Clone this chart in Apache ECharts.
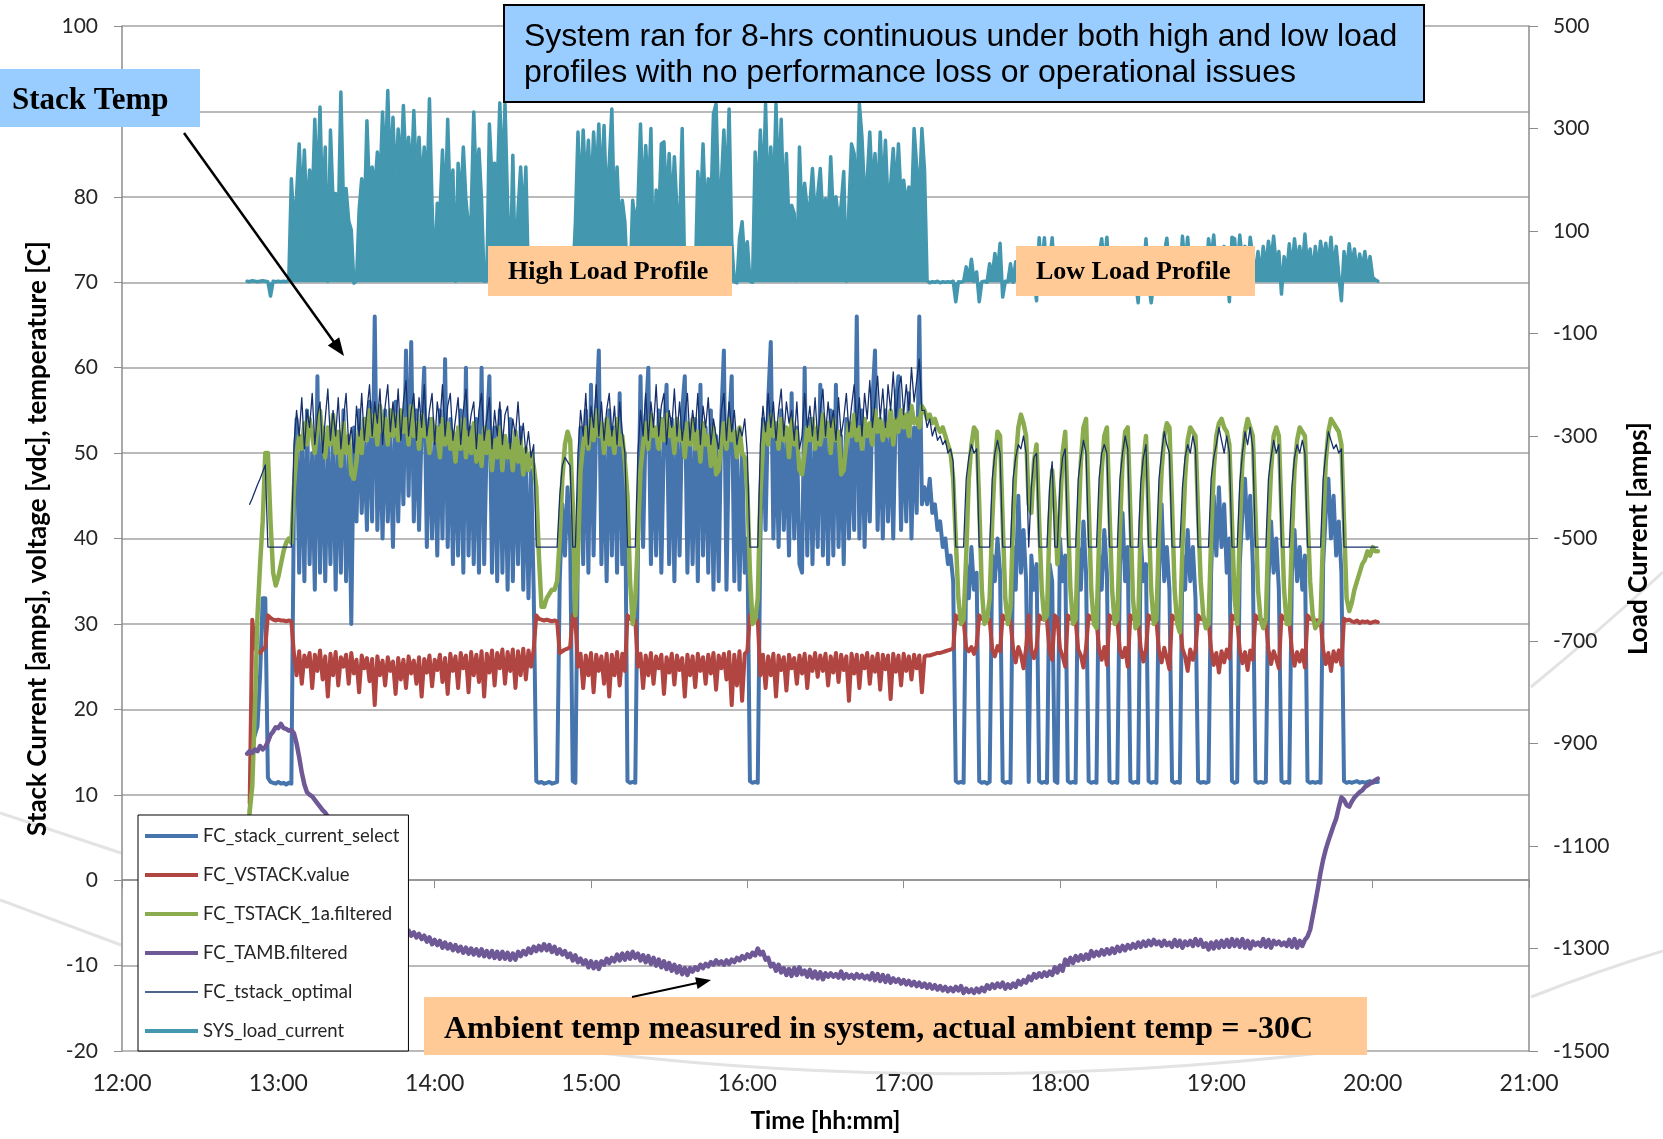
<!DOCTYPE html>
<html><head><meta charset="utf-8">
<script src="https://cdn.jsdelivr.net/npm/echarts/dist/echarts.min.js"></script>
<style>html,body{margin:0;padding:0;background:#fff}#c{width:1663px;height:1139px}</style>
</head><body><div id="c"></div>
<script>
// x = minutes after midnight; each row holds 10 one-minute readings, first row starts 12:48
const FIRST_MINUTE = 768;
const xTickLabels = ['12:00','13:00','14:00','15:00','16:00','17:00','18:00','19:00','20:00','21:00'];
const seriesNames = ['FC_stack_current_select','FC_VSTACK.value','FC_TSTACK_1a.filtered','FC_TAMB.filtered','FC_tstack_optimal','SYS_load_current'];

const curRows = [
[null,8,16,17,18,24,33,33,12,11.5],
[11.4,11.3,11.5,11.3,11.4,11.2,11.4,11.3,45,54],
[36,52,35,55,37,50,34,59,36,53],
[35,51,37,54,34,52,36,55,35,50],
[30,53,42,55,43,52,41,56,42,66],
[41,53,40,55,42,52,39,56,42,54],
[44,62,45,63,42,55,41,53,60,39],
[54,40,52,38,55,40,61,39,54,37],
[52,38,55,36,60,38,53,37,54,36],
[60,37,52,59,36,53,35,55,36,52],
[34,54,35,51,37,53,34,50,33,48],
[34,11.6,11.4,11.5,11.3,11.4,11.5,11.3,11.4,11.5],
[35,44,38,46,40,11.6,11.4,40,53,37],
[55,36,58,38,54,62,37,52,35,55],
[38,53,36,57,37,50,11.6,11.4,11.5,11.4],
[38,59,39,54,60,37,53,38,55,36],
[52,58,37,54,35,53,38,55,59,36],
[52,37,54,35,58,38,53,36,55,34],
[52,35,54,62,34,53,59,35,52,34],
[50,36,40,11.6,11.4,11.5,11.4,40,54,41],
[56,63,40,53,39,55,41,52,38,57],
[40,53,37,36,60,38,54,37,52,39],
[58,38,53,37,55,38,58,39,52,37],
[54,40,53,41,66,40,55,39,52,42],
[56,62,41,54,40,55,42,53,40,56],
[59,41,54,42,57,40,53,43,66,44],
[46,44,47,43,44,41,42,39,40,37],
[38,35,11.6,11.4,11.5,11.4,37,33,39,34],
[36,11.6,11.4,11.5,11.3,11.5,38,35,40,36],
[11.6,11.4,11.5,11.4,39,34,45,36,41,35],
[11.5,38,34,37,11.6,11.4,11.5,11.4,37,35],
[11.6,11.4,40,35,38,11.6,11.4,11.5,11.4,39],
[34,42,36,11.6,11.4,11.5,11.4,38,34,41],
[36,11.6,11.4,11.5,11.4,37,43,35,39,11.6],
[11.4,11.5,11.4,40,35,37,11.6,11.4,11.5,11.4],
[36,44,35,39,34,11.6,11.4,11.5,11.4,38],
[34,41,35,39,33,11.6,11.4,11.5,11.4,11.5],
[36,45,38,46,39,44,36,40,11.6,11.4],
[11.5,37,43,47,40,45,37,11.6,11.4,11.5],
[11.4,11.5,35,42,36,40,34,11.6,11.4,11.5],
[11.4,36,41,35,39,34,38,11.6,11.4,11.5],
[11.4,11.5,11.4,37,43,47,40,45,38,42],
[36,11.6,11.4,11.5,11.4,11.5,11.6,11.4,11.5,11.4],
[11.5,11.6,11.4,11.5,11.5]
];

const vstRows = [
[null,9,30.5,27.2,26.8,26.6,27,27.3,31,30.7],
[30.5,30.4,30.5,30.4,30.4,30.3,30.4,30.3,26.5,24],
[26.8,23,26.3,25,26.6,22.5,26.4,24.5,26.9,23.5],
[26.2,21.5,26.5,24,26.7,22.8,26.1,25,26.4,23],
[26.6,24.2,25.8,22,26.3,24.8,26,23.3,25.9,20.5],
[26.2,24,25.7,22.8,26.1,24.5,25.6,21.8,26,23.5],
[25.8,22.5,26.2,24.2,25.7,23,26.1,21.5,25.9,24.3],
[26.3,22.7,25.8,24.6,26.4,23.2,26,21.8,26.5,24.5],
[26.2,22.5,26.6,24.8,26.3,22,26.7,24,26.4,23.2],
[26.8,21.5,26.5,24.3,26.9,22.8,26.6,24.8,27,23],
[26.7,24.5,27,22.5,26.8,24,27.1,23.5,26.9,25],
[27,31,30.6,30.5,30.4,30.5,30.4,30.3,30.4,30.3],
[26.6,26.8,27,27.1,27.3,31,30.6,25,26.5,22.5],
[26.3,24,26.6,22,26.4,24.5,26.2,23,26.5,21.5],
[26.4,24,26.7,22.8,26.5,24.5,31,30.6,30.5,30.4],
[25,26.5,22.5,26.3,24,26.6,23,26.2,24.8,26.4],
[21.8,26.1,24.3,26.5,22.9,26.3,24.6,26,21.5,26.4],
[24,26.2,22.6,26.5,24.5,26.1,23,26.4,24.2,26.6],
[22.3,26.3,24.8,26.5,23.5,26.7,20.5,26.4,22.8,26.8],
[21,26.5,26.8,31,30.6,30.5,30.4,24,26.4,22.5],
[26.2,24,26.5,21.5,26.3,24.6,26.1,22.2,26.4,24.8],
[26,23,26.3,24.2,26.5,22.5,26.2,24.5,26.6,23.8],
[26.3,24.5,26.5,22.8,26.2,24.3,26.6,23.2,26.4,24.6],
[26.2,21,26.5,24.2,26.4,22.5,26.3,24.8,26.6,23],
[26.2,24.4,26.5,22.3,26.4,24.7,26.3,21.2,26.5,24.4],
[26.3,22.8,26.5,24.5,26.2,23.5,26.4,24.8,26.3,22],
[26.2,26.3,26.3,26.4,26.5,26.6,26.6,26.7,26.8,26.9],
[27,27.1,31,30.6,30.5,30.4,27.2,26.8,27.3,26.5],
[27.5,31,30.6,30.5,30.4,30.5,27,26.2,27.4,26.8],
[31,30.6,30.5,30.4,27.1,25.5,27.3,26.4,24.8,27.2],
[31,26.9,26,27.2,31,30.6,30.5,30.4,26.8,25.8],
[31,30.6,27.1,26.2,25,31,30.6,30.5,30.4,27],
[26.3,24.9,27.2,31,30.6,30.5,30.4,27,25.8,27.3],
[25.2,31,30.6,30.5,30.4,26.9,26.1,27.2,25,31],
[30.6,30.5,30.4,27.1,25.6,27,31,30.6,30.5,30.4],
[26.8,25.5,27.2,26,24.7,31,30.6,30.5,30.4,27.1],
[26.2,24.5,27,25.8,26.9,31,30.6,30.5,30.4,30.4],
[27,25.2,26.6,24.3,26.8,25.5,27,26,31,30.6],
[30.5,26.9,25.4,26.7,24.6,26.9,25.8,31,30.6,30.5],
[30.4,30.4,27,25.3,26.8,25.9,24.8,31,30.6,30.5],
[30.4,26.9,25.1,26.7,25.6,26.9,24.9,31,30.6,30.5],
[30.4,30.4,30.5,27,25.3,26.6,24.5,26.8,25.6,26.9],
[25.2,30.6,30.4,30.5,30.3,30.2,30.4,30.1,30.3,30.2],
[30.3,30.1,30.2,30.3,30.2]
];

const tstRows = [
[5,8,11,20,31,37,42,50,50,42],
[36,34.5,35.5,37,38.5,39.5,40,39.5,46,50],
[52,50.5,53.5,51,54,52,50,53,55,51.5],
[49.5,53,51,54.5,50,52.5,48.5,53.5,50,52],
[47.5,47,49,52.5,50,54,51.5,55,52,54.5],
[51,55.5,52.5,54,51,55,52,54.5,51.5,55],
[52.5,54,51,55.5,52,53.5,50.5,54.5,52,53],
[50,54,51.5,53,49.5,54,51,53.5,50.5,52.5],
[49,53,50.5,54,49.5,52.5,50,53.5,49,52],
[48.5,53,50,52.5,48,51.5,49.5,53,48,52],
[49.5,51,48,52.5,49,51.5,47.5,50.5,48,50],
[48.5,46,38,32,32,33,33.5,34,34,35],
[40,47,51,52.5,51.5,44,31,38,48,51],
[53,50.5,54,51.5,55,52,53.5,50,54,51],
[52.5,50,54,51,52,49,45,35,30,33],
[40,48,51,53.5,50.5,54.5,52,53,50.5,54],
[51.5,54.5,52,53,50,54,51.5,52.5,49.5,53.5],
[51,54,50.5,52.5,49,53.5,51,52,48.5,53],
[47.5,48,51,53.5,50.5,54,51.5,52.5,49.5,53],
[50,49.5,46,36,30,30.5,33,45,51,53.5],
[51,54.5,52,53.5,50.5,54,51.5,53,49.5,54],
[51,52.5,48,47.5,50,53,51.5,54,50.5,53],
[51,54.5,52,53.5,50,54,51.5,52.5,47.5,48],
[51,53.5,52,54.5,51.5,53,50.5,54,52,53.5],
[51,55,52.5,54,51.5,53.5,52,55,51,54],
[52.5,55,53,54.5,52,55.5,53.5,54,53,55.5],
[55,54,54.5,53.5,54,53,52.5,53,52,51],
[50,47,40,33,30,30.5,38,47,51,53],
[52.5,44,34,30,30.5,33,42,49,52.5,52],
[42,33,30,32,42,49,53,54.5,53.5,52],
[44,43,49,51,42,34,30.5,31,42,48],
[44,37,43,50,52.5,43,34,30,30.5,41],
[49,53,54,44,34,30,29.5,40,48,52],
[53,43,34,30,30.5,41,49,52.5,53,43],
[33,29.5,30,42,49,52,43,34,30,30.5],
[41,48,52,53.5,53,44,34,30,29,39],
[47,51.5,53,52.5,52,43,35,31,29.5,30],
[40,48,52,53.5,54,53,52.5,51,42,33],
[30,41,49,52.5,54,53,52,43,34,30.5],
[29.5,30.5,41,48,52,53,52,43,34,30],
[30,40,48,51.5,53,52.5,52,43,35,31],
[29.5,30,30.5,41,49,52.5,54,53.5,53,52.5],
[51,42,33,31.5,32.5,34,35,36,37,37.5],
[38.5,38,39,38.5,38.5]
];

const ambRows = [
[14.8,15.1,14.9,15.3,15.1,15.7,15.3,15.6,16.2,17.0],
[17.4,17.9,17.8,18.3,17.8,17.7,17.5,17.6,17.2,16.0],
[14.4,12.6,11.2,10.3,10.0,9.8,9.4,9.0,8.6,8.2],
[7.9,7.4,6.9,6.3,5.8,5.2,4.7,4.1,3.6,3.0],
[2.5,2.0,1.5,1.0,0.5,0.0,-0.5,-1.0,-1.4,-1.9],
[-2.3,-2.7,-3.1,-3.5,-3.9,-4.3,-4.6,-5.0,-5.3,-5.6],
[-5.6,-6.3,-5.9,-6.5,-6.1,-6.7,-6.3,-6.9,-6.5,-7.2],
[-6.7,-7.5,-7.0,-7.6,-7.1,-7.9,-7.3,-8.0,-7.5,-8.2],
[-7.6,-8.3,-7.8,-8.5,-7.9,-8.6,-8.0,-8.7,-8.1,-8.8],
[-8.1,-8.9,-8.3,-9.0,-8.3,-9.1,-8.4,-9.2,-8.4,-9.2],
[-8.5,-9.3,-8.6,-9.3,-8.4,-8.9,-8.3,-8.7,-8.0,-8.5],
[-7.8,-8.3,-7.7,-8.2,-7.5,-8.2,-7.6,-8.4,-7.8,-8.6],
[-8.1,-8.7,-8.3,-9.0,-8.6,-9.4,-8.8,-9.6,-9.2,-9.8],
[-9.4,-10.2,-9.5,-10.3,-9.6,-10.4,-9.5,-9.9,-9.2,-9.7],
[-9.1,-9.5,-8.7,-9.4,-8.6,-9.3,-8.5,-9.2,-8.4,-9.1],
[-8.6,-9.4,-8.8,-9.6,-8.9,-9.8,-9.1,-10.0,-9.3,-10.2],
[-9.5,-10.4,-9.7,-10.6,-9.9,-10.8,-10.1,-11.0,-10.3,-11.1],
[-10.3,-10.7,-10.2,-10.5,-9.9,-10.3,-9.8,-10.1,-9.6,-9.9],
[-9.4,-9.8,-9.5,-9.9,-9.4,-9.8,-9.3,-9.6,-9.1,-9.4],
[-8.9,-9.2,-8.7,-9.0,-8.5,-8.8,-8.0,-8.7,-8.4,-9.3],
[-9.1,-10.1,-9.8,-10.6,-9.9,-10.8,-10.3,-11.1,-10.4,-11.2],
[-10.3,-11.1,-10.2,-11.0,-10.6,-11.3,-10.5,-11.4,-10.7,-11.5],
[-10.8,-11.6,-10.9,-11.3,-10.9,-11.3,-11.0,-11.4,-10.7,-11.5],
[-11.0,-11.4,-11.1,-11.5,-11.0,-11.4,-11.1,-11.5,-11.2,-11.6],
[-10.9,-11.7,-11.0,-11.8,-11.1,-11.9,-11.2,-12.0,-11.5,-11.9],
[-11.6,-12.1,-11.7,-12.2,-11.8,-12.3,-11.9,-12.4,-12.0,-12.5],
[-12.1,-12.6,-12.2,-12.7,-12.3,-12.8,-12.4,-12.9,-12.5,-13.0],
[-12.6,-13.0,-12.5,-12.9,-12.4,-13.2,-12.7,-13.1,-12.8,-13.2],
[-12.7,-13.1,-12.6,-13.0,-12.3,-12.7,-12.2,-12.6,-12.1,-12.5],
[-12.0,-12.7,-12.2,-12.6,-12.1,-12.5,-11.8,-12.2,-11.7,-12.0],
[-11.3,-11.7,-11.0,-11.4,-10.9,-11.3,-10.8,-11.2,-10.7,-11.1],
[-10.2,-10.8,-10.0,-10.6,-9.3,-9.9,-9.1,-9.7,-8.9,-9.4],
[-8.8,-9.3,-8.7,-9.2,-8.3,-8.9,-8.4,-8.8,-8.2,-8.7],
[-8.1,-8.6,-8.0,-8.5,-7.8,-8.3,-7.7,-8.2,-7.6,-8.0],
[-7.5,-7.9,-7.3,-7.8,-7.2,-7.7,-7.1,-7.6,-7.0,-7.5],
[-7.2,-7.7,-7.1,-7.6,-7.3,-7.8,-7.0,-7.7,-7.1,-7.9],
[-7.2,-7.6,-7.1,-7.7,-6.9,-7.6,-7.0,-7.8,-7.4,-8.1],
[-7.3,-8.0,-7.2,-7.9,-7.1,-7.8,-7.0,-7.8,-6.9,-7.7],
[-7.0,-7.8,-6.9,-7.9,-7.1,-8.0,-7.2,-7.6,-7.3,-7.7],
[-6.9,-7.8,-7.0,-7.9,-7.1,-7.5,-7.2,-7.6,-7.3,-7.7],
[-7.0,-7.8,-6.9,-7.9,-7.1,-7.7,-7.0,-6.6,-5.8,-4.2],
[-2.6,-0.9,0.9,2.4,3.6,4.6,5.5,6.4,7.2,8.5],
[9.7,9.4,8.8,8.6,9.2,9.7,10.0,10.3,10.5,10.9],
[11.1,11.3,11.5,11.7,11.9]
];

const optRows = [
[null,44,44.7,45.5,46.3,47,47.8,48.6,39,39],
[39,39,39,39,39,39,39,39,51,55],
[52,56.5,50.5,55,53,57,51,54.5,56,50],
[54,57.5,51.5,55,52,56.5,50.5,54,57,51],
[53,50,55.5,52,57,51.5,55,58,52,56],
[53.5,57.5,51,55.5,58,52.5,56,53,57.5,51.5],
[56,58.5,52,55,57,51.5,56.5,53,58,52],
[55,57,51,56,53.5,58,52,55.5,57,51.5],
[54,56.5,51,55,57.5,52,54.5,56,50.5,55],
[57,51.5,54,56.5,50.5,55,52,56,51,54.5],
[55.5,50.5,54,52,56,51,53.5,50,52.5,49.5],
[51,39,39,39,39,39,39,39,39,39],
[45,48.5,49.5,49,48.5,39,39,50,55,52],
[57,51,55.5,53,58,52,56,51.5,55,57],
[52,55.5,51,56,52.5,50,39,39,39,39],
[50,55,52,57,51.5,56,53,58,52,55.5],
[57,51,55,53,57.5,52,56,51.5,54.5,57],
[51.5,55,52.5,57,51,55.5,53,56.5,51,54],
[52,50.5,55,57,51.5,56,52.5,55,51,53],
[52,54,50,39,39,39,39,51,55.5,52.5],
[57,53,56,51.5,55,57.5,52,56,53.5,55],
[51.5,56,50.5,52,57,53,55.5,52,56.5,51.5],
[55,57.5,52,56,53,55,51.5,56.5,52,54],
[57,52.5,55.5,58,53,56.5,52,57,54,58.5],
[53,56,59,54,57.5,53,58,55,59.5,54],
[57.5,59,54.5,58,55,60,56,58.5,61,55],
[55,53,54,52,53,51.5,52,51,51.5,50],
[50.5,49,39,39,39,39,47,49.5,51,50],
[50.5,39,39,39,39,39,47,50,51.5,50],
[39,39,39,39,47,49.5,51,50.5,52,50],
[39,46,49.5,50,39,39,39,39,46,49],
[39,39,46.5,49.5,50.5,39,39,39,39,47],
[49.5,51.5,50,39,39,39,39,47,50,51],
[50,39,39,39,39,47,50,52,50.5,39],
[39,39,39,46.5,49.5,51,39,39,39,39],
[47,50,52.5,51,50,39,39,39,39,46],
[49.5,51,50,52,50.5,39,39,39,39,39],
[47,49.5,51,53,51.5,50,52,50,39,39],
[39,46.5,50,52.5,51,53,50.5,39,39,39],
[39,39,47,49.5,51.5,50,51,39,39,39],
[39,46,49.5,51,50,51.5,50,39,39,39],
[39,39,39,47,50,52.5,51.5,50.5,51,50],
[50.5,39,39,39,39,39,39,39,39,39],
[39,39,39,39,39]
];

// SYS_load_current in amps (right axis)
const loadRows = [
[2,1,3,2,1,2,3,2,1,-27],
[2,1,2,1,2,1,3,202,110,170],
[270,140,258,120,219,150,318,160,342,130],
[264,2,297,160,173,110,371,150,183,120],
[102,-2,3,140,202,120,315,170,225,180],
[254,190,332,210,374,200,322,180,299,210],
[345,220,283,190,335,200,283,180,264,170],
[358,150,4,154,130,258,120,318,140,219],
[2,232,150,264,160,108,130,332,180,260],
[160,2,3,309,200,232,180,350,190,348],
[150,3,248,2,140,225,110,225,2,1],
[1,-1,2,0,1,-2,1,0,2,-1],
[1,0,-2,1,0,4,115,293,150,297],
[180,277,160,293,190,309,170,306,150,232],
[338,120,225,100,160,118,2,0,160,110],
[150,309,140,267,160,300,2,180,120,270],
[274,150,251,130,245,140,100,300,2,0],
[1,-1,2,216,130,270,120,202,140,329],
[348,150,190,297,160,338,80,1,-1,86],
[118,40,79,2,0,254,150,297,160,348],
[140,264,150,348,170,318,130,251,110,150],
[134,3,264,120,193,140,150,222,130,170],
[222,120,163,110,245,130,167,120,150,216],
[2,150,270,251,140,348,283,170,200,293],
[180,251,150,293,160,277,150,190,261,170],
[270,160,199,150,186,140,300,225,160,300],
[219,3,-1,1,0,2,-1,1,0,1],
[0,2,-38,1,0,2,30,5,45,2],
[20,-38,1,2,0,36,10,56,20,76],
[-29,2,1,36,0,40,5,50,10,45],
[2,30,5,-36,87,20,87,3,40,87],
[2,0,45,10,60,1,0,2,1,40],
[8,55,20,1,0,2,1,50,85,30],
[88,2,0,1,-2,45,10,60,20,1],
[0,2,-40,50,15,85,1,-40,2,0],
[40,10,55,86,20,1,0,2,1,90],
[30,88,15,60,20,1,0,40,2,85],
[45,92,20,60,15,70,30,-38,88,85],
[20,92,40,70,15,88,50,20,60,10],
[70,25,80,40,90,30,60,-23,50,15],
[75,20,85,35,70,25,94,30,65,15],
[70,20,80,40,76,30,88,20,70,15],
[-36,60,20,75,30,65,15,55,25,60],
[20,50,10,5,2]
];

function pairs(rows){const out=[];rows.forEach((row,r)=>row.forEach((v,j)=>out.push([FIRST_MINUTE+r*10+j,v])));return out;}

const SANS = "Lato, 'Open Sans', sans-serif";
const SERIF = "'Liberation Serif', 'DejaVu Serif', serif";
const ARIAL = "'Liberation Sans', Arial, sans-serif";

function lineSeries(name, rows, color, width, yIdx, area){
  const s = {name, type:'line', yAxisIndex:yIdx||0, data:pairs(rows), symbol:'none', showSymbol:false,
    connectNulls:false, sampling:null, lineStyle:{color, width, join:'round', cap:'round'},
    itemStyle:{color}, emphasis:{disabled:true}, animation:false};
  if (area) s.areaStyle = {color, opacity:1, origin:'auto'};
  return s;
}

function arrow(x1,y1,x2,y2,w,len,half){
  const dx=x2-x1, dy=y2-y1, L=Math.hypot(dx,dy), ux=dx/L, uy=dy/L, px=-uy, py=ux;
  const bx=x2-ux*len, by=y2-uy*len;
  return [
    {type:'line', z:100, shape:{x1,y1,x2:bx+ux*2,y2:by+uy*2}, style:{stroke:'#000', lineWidth:w}},
    {type:'polygon', z:100, shape:{points:[[x2,y2],[bx+px*half,by+py*half],[bx-px*half,by-py*half]]}, style:{fill:'#000'}}
  ];
}

const deco = {stroke:'#e3e3e3', lineWidth:3, fill:null};
const graphics = [
  {type:'line', z:0, shape:{x1:0,y1:813,x2:121,y2:853}, style:deco},
  {type:'line', z:0, shape:{x1:0,y1:900,x2:121,y2:945}, style:deco},
  {type:'bezierCurve', z:0, shape:{x1:600,y1:1053,cpx1:960,cpy1:1095,x2:1330,y2:1052}, style:deco},
  {type:'bezierCurve', z:0, shape:{x1:1531,y1:997,cpx1:1600,cpy1:970,x2:1663,y2:951}, style:deco},
  {type:'bezierCurve', z:0, shape:{x1:1531,y1:687,cpx1:1598,cpy1:632,x2:1663,y2:572}, style:deco},

  {type:'rect', z:100, shape:{x:504,y:5,width:920,height:97}, style:{fill:'#99CCFF', stroke:'#000', lineWidth:2}},
  {type:'text', z:101, style:{x:524, y:37, text:'System ran for 8-hrs continuous under both high and low load', font:'32px '+ARIAL, fill:'#000', textVerticalAlign:'middle'}},
  {type:'text', z:101, style:{x:524, y:73.5, text:'profiles with no performance loss or operational issues', font:'32px '+ARIAL, fill:'#000', textVerticalAlign:'middle'}},

  {type:'rect', z:100, shape:{x:0,y:69,width:200,height:58}, style:{fill:'#99CCFF'}},
  {type:'text', z:101, style:{x:12, y:100.5, text:'Stack Temp', font:'bold 31px '+SERIF, fill:'#000', textVerticalAlign:'middle'}},

  {type:'rect', z:100, shape:{x:488,y:246,width:244,height:50}, style:{fill:'#FFCA96'}},
  {type:'text', z:101, style:{x:508, y:272.5, text:'High Load Profile', font:'bold 26px '+SERIF, fill:'#000', textVerticalAlign:'middle'}},

  {type:'rect', z:100, shape:{x:1016,y:246,width:239,height:50}, style:{fill:'#FFCA96'}},
  {type:'text', z:101, style:{x:1036, y:272.5, text:'Low Load Profile', font:'bold 26px '+SERIF, fill:'#000', textVerticalAlign:'middle'}},

  {type:'rect', z:100, shape:{x:424,y:997,width:943,height:58}, style:{fill:'#FFCA96'}},
  {type:'text', z:101, style:{x:444, y:1029.5, text:'Ambient temp measured in system, actual ambient temp = -30C', font:'bold 32px '+SERIF, fill:'#000', textVerticalAlign:'middle'}},
  ...arrow(184,133,344,356,2.5,18,7),
  ...arrow(632,997,711,980,2,15,6)
];

// legend icons: a bar centred in a 53x20 box (tiny corner specks fix the box)
const thickIcon = 'path://M0,0h0.01v0.01h-0.01zM0,8h53v4h-53zM52.99,19.99h0.01v0.01h-0.01z';
const thinIcon = 'path://M0,0h0.01v0.01h-0.01zM0,9.3h53v1.4h-53zM52.99,19.99h0.01v0.01h-0.01z';

const chart = echarts.init(document.getElementById('c'), null, {renderer:'canvas'});
chart.setOption({
  animation:false,
  backgroundColor:'#fff',
  grid:{left:122, top:26, width:1407, height:1025, containLabel:false},
  xAxis:{type:'value', min:720, max:1260, interval:60,
    name:'Time [hh:mm]', nameLocation:'middle', nameGap:58,
    nameTextStyle:{fontFamily:SANS, fontWeight:'bold', fontSize:24.5, color:'#000'},
    axisLine:{show:true, lineStyle:{color:'#8c8c8c', width:1.5}},
    axisTick:{show:true, length:8, lineStyle:{color:'#8c8c8c'}},
    splitLine:{show:false},
    axisLabel:{fontFamily:SANS, fontSize:23, color:'#262626', margin:21.5, formatter:(v)=>xTickLabels[Math.round((v-720)/60)]}},
  yAxis:[
    {type:'value', min:-20, max:100, interval:10, position:'left',
      name:'Stack Current [amps], voltage [vdc], temperature [C]', nameLocation:'middle', nameGap:71, nameRotate:90,
      nameTextStyle:{fontFamily:SANS, fontWeight:'bold', fontSize:26, color:'#000'},
      axisLine:{show:true, lineStyle:{color:'#8c8c8c', width:1.5}},
      axisTick:{show:true, length:8, lineStyle:{color:'#8c8c8c'}},
      splitLine:{show:true, lineStyle:{color:'#a3a3a3', width:1.5}},
      axisLabel:{fontFamily:SANS, fontSize:21, color:'#262626', margin:24}},
    {type:'value', min:-1500, max:500, interval:200, position:'right',
      name:'Load Current [amps]', nameLocation:'middle', nameGap:97, nameRotate:90,
      nameTextStyle:{fontFamily:SANS, fontWeight:'bold', fontSize:26, color:'#000'},
      axisLine:{show:true, lineStyle:{color:'#8c8c8c', width:1.5}},
      axisTick:{show:true, length:9, lineStyle:{color:'#8c8c8c'}},
      splitLine:{show:false},
      axisLabel:{fontFamily:SANS, fontSize:21, color:'#262626', margin:24, formatter:(v)=>String(v)}}
  ],
  legend:{orient:'vertical', left:138, top:815, padding:[11,9,10,7], itemGap:19, itemWidth:53, itemHeight:20,
    backgroundColor:'#fff', borderColor:'#000', borderWidth:1, selectedMode:false,
    textStyle:{fontFamily:SANS, fontSize:18.5, color:'#262626'},
    data:seriesNames.map((n,i)=>({name:n, icon: i===4 ? thinIcon : thickIcon}))},
  series:[
    lineSeries(seriesNames[0], curRows, '#4674AD', 4),
    lineSeries(seriesNames[1], vstRows, '#B04542', 4),
    lineSeries(seriesNames[2], tstRows, '#8BAC4E', 4.5),
    lineSeries(seriesNames[3], ambRows, '#6E5896', 4.5),
    lineSeries(seriesNames[4], optRows, '#17306B', 1.3),
    lineSeries(seriesNames[5], loadRows, '#4397AF', 3.5, 1, true)
  ],
  graphic:graphics
});
</script></body></html>
